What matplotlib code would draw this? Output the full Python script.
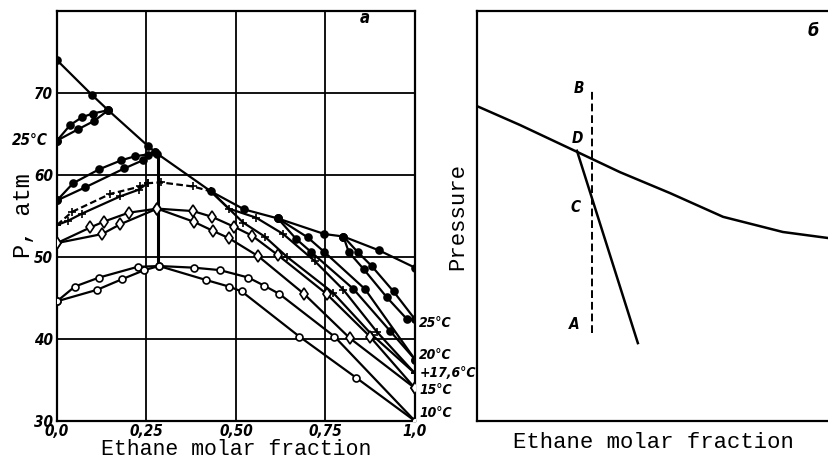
import matplotlib
matplotlib.use("Agg")
from matplotlib import pyplot as plt

# critical locus (filled circles)
crit_x = [0.0, 0.098, 0.143, 0.255, 0.28, 0.43, 0.523, 0.617, 0.747, 0.80, 0.90, 1.0]
crit_p = [74.0, 69.75, 67.9, 63.5, 62.6, 58.0, 55.8, 54.7, 52.8, 52.5, 50.8, 48.7]

# azeotrope line
azeo_x = [0.283, 0.283]
azeo_p = [48.9, 62.6]

# 25 C
t25_lu_x = [0.0, 0.037, 0.07, 0.10, 0.143]
t25_lu_p = [64.2, 66.1, 67.05, 67.5, 67.9]
t25_ll_x = [0.0, 0.06, 0.104, 0.143]
t25_ll_p = [64.2, 65.6, 66.6, 67.9]
t25_ru_x = [0.80, 0.84, 0.879, 0.94, 1.0]
t25_ru_p = [52.5, 50.6, 48.9, 45.8, 42.4]
t25_rl_x = [0.80, 0.815, 0.857, 0.921, 0.978, 1.0]
t25_rl_p = [52.5, 50.6, 48.5, 45.1, 42.4, 42.4]

# 20 C
t20_lu_x = [0.0, 0.045, 0.118, 0.18, 0.219, 0.253, 0.275]
t20_lu_p = [56.9, 59.0, 60.7, 61.8, 62.3, 62.5, 62.8]
t20_ll_x = [0.0, 0.079, 0.188, 0.24, 0.275]
t20_ll_p = [56.9, 58.5, 60.8, 61.8, 62.8]
t20_ru_x = [0.617, 0.70, 0.747, 0.86, 1.0]
t20_ru_p = [54.7, 52.4, 50.6, 46.1, 37.5]
t20_rl_x = [0.617, 0.668, 0.71, 0.828, 0.93, 1.0]
t20_rl_p = [54.7, 52.2, 50.6, 46.1, 41.0, 37.5]

# 17.6 C
t176_lu_x = [0.0, 0.042, 0.149, 0.233, 0.253, 0.29, 0.38, 0.43]
t176_lu_p = [53.9, 55.5, 57.7, 58.6, 59.0, 59.1, 58.6, 58.0]
t176_ll_x = [0.0, 0.03, 0.07, 0.177, 0.228, 0.253]
t176_ll_p = [53.9, 54.4, 55.3, 57.4, 58.2, 59.0]
t176_ru_x = [0.43, 0.48, 0.556, 0.632, 0.72, 0.80, 0.893, 1.0]
t176_ru_p = [58.0, 55.9, 54.8, 52.8, 49.5, 46.0, 40.9, 35.8]
t176_rl_x = [0.43, 0.52, 0.58, 0.643, 0.772, 0.88, 1.0]
t176_rl_p = [58.0, 54.2, 52.5, 50.0, 45.6, 40.5, 35.8]

# 15 C (diamonds)
t15_u_x = [0.0, 0.093, 0.13, 0.20, 0.28, 0.38, 0.433, 0.494, 0.545, 0.618, 0.753, 0.874, 1.0]
t15_u_p = [51.7, 53.6, 54.3, 55.4, 55.9, 55.6, 54.9, 53.7, 52.6, 50.2, 45.5, 40.3, 34.0]
t15_l_x = [0.0, 0.126, 0.177, 0.28, 0.382, 0.435, 0.48, 0.562, 0.69, 0.818, 1.0]
t15_l_p = [51.7, 52.8, 54.0, 55.9, 54.3, 53.2, 52.3, 50.1, 45.5, 40.1, 34.0]

# 10 C (open circles)
t10_u_x = [0.0, 0.05, 0.118, 0.225, 0.285, 0.382, 0.455, 0.534, 0.579, 0.621, 0.775, 1.0]
t10_u_p = [44.6, 46.4, 47.5, 48.8, 48.9, 48.7, 48.4, 47.5, 46.5, 45.5, 40.3, 30.0]
t10_l_x = [0.0, 0.112, 0.182, 0.244, 0.285, 0.416, 0.48, 0.516, 0.677, 0.835, 1.0]
t10_l_p = [44.6, 46.0, 47.3, 48.4, 48.9, 47.2, 46.4, 45.8, 40.3, 35.3, 30.0]

x_ticks = [0.0, 0.25, 0.50, 0.75, 1.0]
x_labels = ["0,0", "0,25", "0,50", "0,75", "1,0"]
y_ticks = [30, 40, 50, 60, 70]

right_labels = ["25°C", "20°C", "+17,6°C", "15°C", "10°C"]
right_label_p = [41.9, 38.1, 35.9, 33.8, 31.0]

# panel b (schematic)
b_curve_x = [0.0, 0.122, 0.273, 0.406, 0.548, 0.699, 0.869, 1.0]
b_curve_y = [0.768, 0.722, 0.661, 0.607, 0.556, 0.498, 0.461, 0.446]
b_dc_x = [0.284, 0.457]
b_dc_y = [0.659, 0.19]
b_ab_x = [0.327, 0.327]
b_ab_y = [0.215, 0.81]
b_pts = ["B", "D", "C", "A"]
b_pts_x = [0.305, 0.30, 0.295, 0.29]
b_pts_y = [0.81, 0.69, 0.52, 0.235]

num_font = dict(family="DejaVu Sans", stretch="condensed", style="italic", weight="bold")
mono = "Liberation Mono"

fig = plt.figure(figsize=(8.29, 4.63), dpi=100)
ax = fig.add_axes([57 / 829, 42 / 463, 358 / 829, 410 / 463])


def curve(x, p, marker=None, face="black", ls="-", ms=5.0):
    ax.plot(x, p, color="black", lw=1.6, ls=ls, zorder=3)
    if marker:
        ax.plot(x, p, ls="none", marker=marker, ms=ms, mfc=face, mec="black",
                mew=1.2, zorder=4)


# grid
for gx in [0.25, 0.50, 0.75]:
    ax.axvline(gx, color="black", lw=1.3, zorder=1)
for gy in [40, 50, 60, 70]:
    ax.axhline(gy, color="black", lw=1.3, zorder=1)

curve(crit_x, crit_p, "o")
ax.plot(azeo_x, azeo_p, color="black", lw=2.2, zorder=3)

curve(t25_lu_x, t25_lu_p, "o")
curve(t25_ll_x, t25_ll_p, "o")
curve(t25_ru_x, t25_ru_p, "o")
curve(t25_rl_x, t25_rl_p, "o")

curve(t20_lu_x, t20_lu_p, "o")
curve(t20_ll_x, t20_ll_p, "o")
curve(t20_ru_x, t20_ru_p, "o")
curve(t20_rl_x, t20_rl_p, "o")

curve(t176_lu_x, t176_lu_p, "+", ls=(0, (3, 1.5)), ms=6)
curve(t176_ll_x, t176_ll_p, "+", ms=6)
curve(t176_ru_x, t176_ru_p, "+", ms=6)
curve(t176_rl_x, t176_rl_p, "+", ms=6)

curve(t15_u_x, t15_u_p, "d", face="white", ms=6.5)
curve(t15_l_x, t15_l_p, "d", face="white", ms=6.5)

curve(t10_u_x, t10_u_p, "o", face="white")
curve(t10_l_x, t10_l_p, "o", face="white")

ax.set_xlim(0, 1.0)
ax.set_ylim(30, 80)
ax.set_xticks(x_ticks)
ax.set_xticklabels(x_labels, fontdict=dict(size=11, **num_font))
ax.set_yticks(y_ticks)
ax.set_yticklabels([str(v) for v in y_ticks], fontdict=dict(size=11, **num_font))
ax.tick_params(axis="y", length=0, pad=3)
ax.tick_params(axis="x", length=0, pad=2)
for s in ax.spines.values():
    s.set_linewidth(1.6)

ax.set_xlabel("Ethane molar fraction", family=mono, size=15.5)
ax.xaxis.set_label_coords(0.5, -0.045)
ax.set_ylabel("P, atm", family=mono, size=17, labelpad=-1)

for lab, lp in zip(right_labels, right_label_p):
    ax.text(1.012, lp, lab, size=10, va="center", ha="left", clip_on=False, **num_font)
ax.text(-0.125, 64.2, "25°C", size=11, va="center", ha="left", **num_font)
ax.text(0.845, 79.2, "a", size=12, va="center", **num_font)

# panel b
bx = fig.add_axes([477 / 829, 42 / 463, 352 / 829, 410 / 463])
bx.plot(b_curve_x, b_curve_y, color="black", lw=1.8)
bx.plot(b_dc_x, b_dc_y, color="black", lw=1.8)
bx.plot(b_ab_x, b_ab_y, color="black", lw=1.4, ls=(0, (4, 2)))
for t, tx, ty in zip(b_pts, b_pts_x, b_pts_y):
    bx.text(tx, ty, t, size=11, ha="right", va="center", **num_font)
bx.text(0.955, 0.95, "б", size=13, ha="center", va="center", **num_font)
bx.set_xlim(0, 1)
bx.set_ylim(0, 1)
bx.set_xticks([])
bx.set_yticks([])
bx.spines["right"].set_visible(False)
for s in bx.spines.values():
    s.set_linewidth(1.6)
bx.set_xlabel("Ethane molar fraction", family=mono, size=16, labelpad=8)
bx.set_ylabel("Pressure", family=mono, size=16, labelpad=6)

fig.savefig("out.png", dpi=100)
